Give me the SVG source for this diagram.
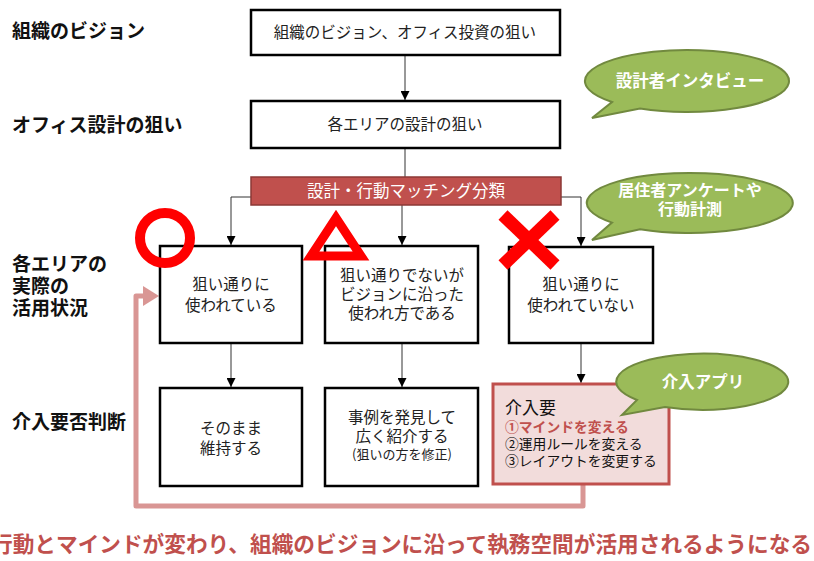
<svg xmlns="http://www.w3.org/2000/svg" width="814" height="561" viewBox="0 0 814 561">
<defs>
<style>
text{font-family:"Noto Sans CJK JP","Noto Sans",sans-serif}
.lbl{font-size:19px;font-weight:bold;fill:#111}
.box{fill:#fff;stroke:#000;stroke-width:2.5}
.bt{font-size:15.5px;fill:#222;text-anchor:middle}
.conn{stroke:#333;stroke-width:1;fill:none}
.cb{fill:#9BBB59;stroke:#71893F;stroke-width:2}
.ct{font-size:16.5px;font-weight:bold;fill:#fff;text-anchor:middle}
.mk{stroke:#FF0000;fill:none}
.it{font-size:13.8px;fill:#111}
</style>
<marker id="ah" viewBox="0 0 10 10" refX="10" refY="5" markerWidth="9" markerHeight="9" markerUnits="userSpaceOnUse" orient="auto">
<path d="M0,0 L10,5 L0,10 Z" fill="#000"/>
</marker>
</defs>
<rect width="814" height="561" fill="#fff"/>

<g id="labels">
<text class="lbl" x="12" y="38">組織のビジョン</text>
<text class="lbl" x="12" y="132">オフィス設計の狙い</text>
<text class="lbl" x="12" y="271">各エリアの</text>
<text class="lbl" x="12" y="293">実際の</text>
<text class="lbl" x="12" y="315">活用状況</text>
<text class="lbl" x="12" y="429">介入要否判断</text>
</g>

<g id="connectors">
<line class="conn" x1="405" y1="55" x2="405" y2="100" marker-end="url(#ah)"/>
<line class="conn" x1="405" y1="148" x2="405" y2="177"/>
<polyline class="conn" points="251,197 231,197 231,245" marker-end="url(#ah)"/>
<line class="conn" x1="402" y1="205" x2="402" y2="245" marker-end="url(#ah)"/>
<polyline class="conn" points="561,197 581,197 581,246" marker-end="url(#ah)"/>
<line class="conn" x1="231" y1="343" x2="231" y2="387" marker-end="url(#ah)"/>
<line class="conn" x1="402" y1="343" x2="402" y2="387" marker-end="url(#ah)"/>
<line class="conn" x1="581" y1="343" x2="581" y2="383" marker-end="url(#ah)"/>
<path d="M583,485 L583,506 L136,506 L136,296 L146,296" fill="none" stroke="#D99694" stroke-width="5" stroke-linejoin="round"/>
<path d="M143,286 L159,296 L143,306 Z" fill="#D99694"/>
</g>

<g id="vision">
<rect class="box" x="251" y="10" width="309" height="45"/>
<text class="bt" x="405" y="38">組織のビジョン、オフィス投資の狙い</text>
</g>
<g id="area-aim">
<rect class="box" x="251" y="101" width="309" height="47"/>
<text class="bt" x="405" y="130">各エリアの設計の狙い</text>
</g>
<g id="matching">
<rect x="251" y="177" width="310" height="28" fill="#C0504D" stroke="#8C3836" stroke-width="1.5"/>
<text x="406" y="197" font-size="16.5" fill="#fff" text-anchor="middle">設計・行動マッチング分類</text>
</g>

<g id="used-as-intended">
<rect class="box" x="160" y="246" width="142" height="97"/>
<text class="bt" x="231" y="290">狙い通りに</text>
<text class="bt" x="231" y="311">使われている</text>
</g>
<g id="used-along-vision">
<rect class="box" x="325" y="246" width="153" height="97"/>
<text class="bt" x="402" y="281">狙い通りでないが</text>
<text class="bt" x="402" y="300">ビジョンに沿った</text>
<text class="bt" x="402" y="319">使われ方である</text>
</g>
<g id="not-used">
<rect class="box" x="509" y="247" width="144" height="96"/>
<text class="bt" x="581" y="290">狙い通りに</text>
<text class="bt" x="581" y="311">使われていない</text>
</g>

<g id="keep">
<rect class="box" x="160" y="388" width="142" height="98"/>
<text class="bt" x="231" y="434">そのまま</text>
<text class="bt" x="231" y="454">維持する</text>
</g>
<g id="share">
<rect class="box" x="325" y="388" width="153" height="98"/>
<text class="bt" x="402" y="423">事例を発見して</text>
<text class="bt" x="402" y="442">広く紹介する</text>
<text class="bt" x="402" y="459" style="font-size:13px">(狙いの方を修正)</text>
</g>
<g id="intervene">
<rect x="493" y="384" width="176" height="100" fill="#F2DCDB" stroke="#C0504D" stroke-width="3"/>
<text x="505" y="414" font-size="17" fill="#111">介入要</text>
<text class="it" x="505" y="432" font-weight="bold" style="fill:#C0504D">①マインドを変える</text>
<text class="it" x="505" y="449">②運用ルールを変える</text>
<text class="it" x="505" y="466">③レイアウトを変更する</text>
</g>

<g id="marks">
<circle class="mk" cx="165" cy="238" r="25" stroke-width="10"/>
<polygon class="mk" points="336,218 311,256 361,256" stroke-width="9" stroke-linejoin="miter"/>
<line class="mk" x1="503" y1="215" x2="555" y2="265" stroke-width="13"/>
<line class="mk" x1="555" y1="215" x2="503" y2="265" stroke-width="13"/>
</g>

<g id="callout-interview">
<path class="cb" d="M612,102 A102 31 0 1 1 640,108.5 L592,118 Z"/>
<text class="ct" x="690" y="87">設計者インタビュー</text>
</g>
<g id="callout-survey">
<path class="cb" d="M612,222.6 A103 30 0 1 1 640,229.2 L592,240 Z"/>
<text class="ct" x="690" y="196" style="font-size:16px">居住者アンケートや</text>
<text class="ct" x="690" y="215" style="font-size:16px">行動計測</text>
</g>
<g id="callout-app">
<path class="cb" d="M637,400 A86 28 0 1 1 665,407 L622,415 Z"/>
<text class="ct" x="703" y="388">介入アプリ</text>
</g>

<g id="conclusion">
<text x="-9" y="552" font-size="21.5" font-weight="bold" fill="#C0504D" textLength="821" lengthAdjust="spacingAndGlyphs">行動とマインドが変わり、組織のビジョンに沿って執務空間が活用されるようになる</text>
</g>
</svg>
